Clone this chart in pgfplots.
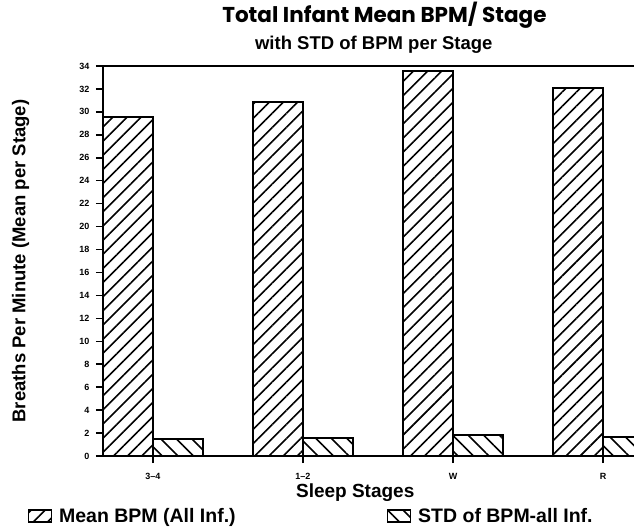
\documentclass[border=0pt]{standalone}
\usepackage{fontspec}
\setmainfont{Liberation Sans}
\newfontfamily\titlefont{Poppins}
\usepackage{pgfplots}
\pgfplotsset{compat=1.18}
\usetikzlibrary{patterns.meta}
\begin{document}
\begin{tikzpicture}
\begin{axis}[
  scale only axis, width=531pt, height=390pt,
  xmin=-0.3333, xmax=3.2067, ymin=0, ymax=34,
  axis lines*=left,
  axis line style={line width=1.8pt},
  clip mode=individual,
  xtick={0,1,2,3}, xticklabels={3--4,1--2,W,R},
  ytick={0,2,...,34},
  tick align=outside, major tick length=7pt,
  tick style={line width=1.5pt, black},
  /pgf/number format/assume math mode=true,
  ticklabel style={font=\bfseries\fontsize{9}{10}\selectfont},
  yticklabel style={xshift=-3pt},
  xticklabel style={yshift=-7pt},
  xlabel={Sleep Stages},
  xlabel style={font=\bfseries\fontsize{19}{22}\selectfont, at={(axis description cs:0.475,-0.095)}, anchor=center},
  ylabel={Breaths Per Minute (Mean per Stage)},
  ylabel style={font=\bfseries\fontsize{18.5}{21}\selectfont, at={(axis description cs:-0.155,0.5)}, anchor=center},
  legend style={at={(axis description cs:-0.148,-0.154)}, anchor=west, draw=none, fill=none,
    legend columns=2, font=\bfseries\fontsize{19.5}{23}\selectfont,
    /tikz/every odd column/.append style={column sep=5pt},
    /tikz/every even column/.append style={column sep=149pt}},
  legend image code/.code={\draw[#1, line width=1.5pt] (0pt,-6pt) rectangle (23pt,6pt);},
]
\addplot[ybar, bar width=0.3333, bar shift=-0.16667, draw=black, line width=2pt,
  pattern={Lines[angle=45, distance=10pt, line width=1.6pt]}]
  coordinates {(0,29.55) (1,30.9) (2,33.6) (3,32.1)};
\addlegendentry{Mean BPM (All Inf.)}
\addplot[ybar, bar width=0.3333, bar shift=0.16667, draw=black, line width=2pt,
  pattern={Lines[angle=-45, distance=11pt, line width=1.6pt]}]
  coordinates {(0,1.5) (1,1.6) (2,1.8) (3,1.7)};
\addlegendentry{STD of BPM-all Inf.}
\draw[line width=2.6pt] (axis description cs:0,1) -- (axis description cs:1,1);
\node[font=\titlefont\bfseries\fontsize{21.5}{25}\selectfont] at (axis description cs:0.53,1.131) {Total Infant Mean BPM/ Stage};
\node[font=\bfseries\fontsize{18.5}{21}\selectfont] at (axis description cs:0.51,1.054) {with STD of BPM per Stage};
\end{axis}
\pgfresetboundingbox
\useasboundingbox (-103pt,-71pt) rectangle (531pt,456pt);
\end{tikzpicture}
\end{document}
